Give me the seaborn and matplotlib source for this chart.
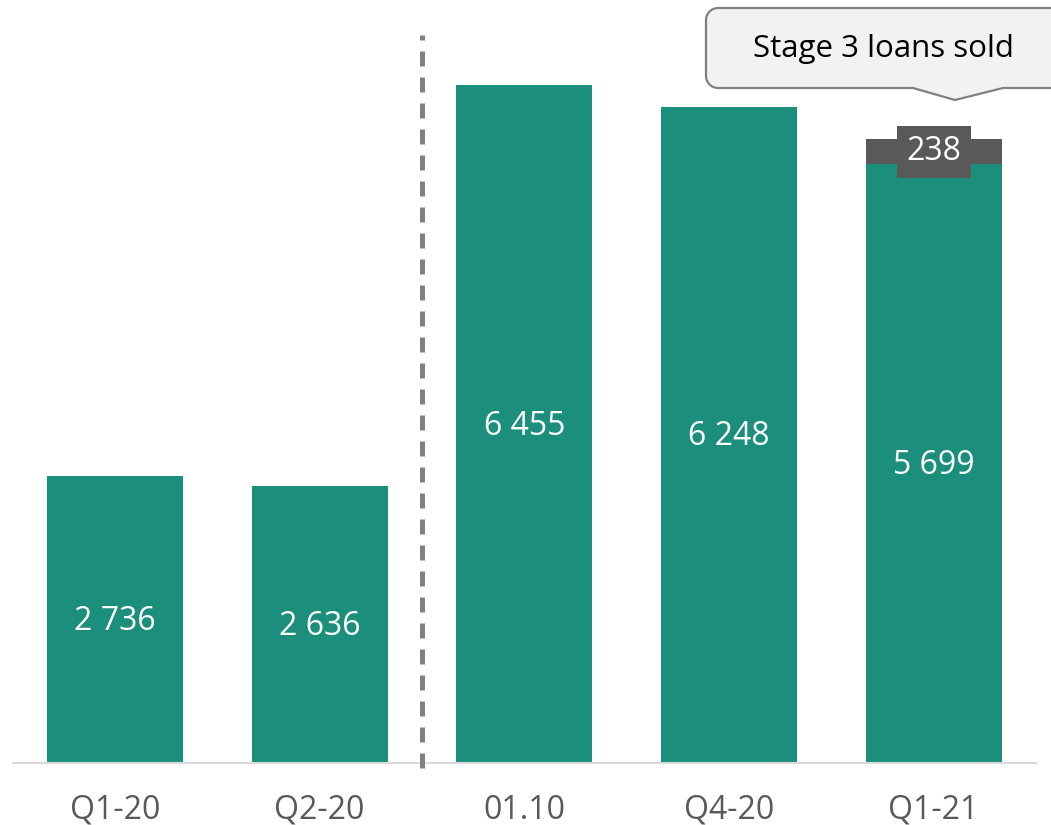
import seaborn as sns
import matplotlib.pyplot as plt
import pandas as pd
import numpy as np
from matplotlib.path import Path
from matplotlib.patches import PathPatch
from matplotlib.transforms import Affine2D

periods = ["Q1-20", "Q2-20", "01.10", "Q4-20", "Q1-21"]
stage3 = [2736, 2636, 6455, 6248, 5699]
sold = [0, 0, 0, 0, 238]
callout_text = "Stage 3 loans sold"

green = "#1b8f7b"
dark = "#595959"

df = pd.DataFrame({"period": periods, "stage3": stage3, "sold": sold})
df["total"] = df["stage3"] + df["sold"]

sns.set_style("white")
plt.rcParams["font.family"] = ["Open Sans", "DejaVu Sans"]

fig = plt.figure(figsize=(10.51, 8.25), dpi=100)
ax = fig.add_axes([12.6 / 1051, 62 / 825, (1036 - 12.6) / 1051, 763 / 825])

# stacked: total in grey behind, stage 3 in green on top
sns.barplot(data=df, x="period", y="total", color=dark, saturation=1,
            width=0.664, order=periods, ax=ax, linewidth=0)
sns.barplot(data=df, x="period", y="stage3", color=green, saturation=1,
            width=0.664, order=periods, ax=ax, linewidth=0)

ax.set_xlim(-0.5, 4.5)
ax.set_ylim(0, 763 * 9.52)

for i, row in df.iterrows():
    ax.text(i, row["stage3"] / 2 - 20, f"{row['stage3']:,}".replace(",", " "),
            ha="center", va="center", color="white", fontsize=23)
    if row["sold"] > 0:
        ax.text(i, row["stage3"] + row["sold"] / 2, f"{row['sold']}",
                ha="center", va="center", color="white", fontsize=23,
                bbox=dict(boxstyle="square,pad=0.3", fc=dark, ec="none"))

# dashed separator
ax.plot([1.5, 1.5], [-50, 6930], color="#808080", lw=3.6,
        ls=(0, (3, 2.2)), solid_capstyle="butt", clip_on=False, zorder=5)

for s in ["top", "right", "left"]:
    ax.spines[s].set_visible(False)
ax.spines["bottom"].set_color("#d9d9d9")
ax.spines["bottom"].set_linewidth(1.5)
ax.set_yticks([])
ax.set_xlabel("")
ax.set_ylabel("")
ax.tick_params(axis="x", length=0, pad=22, labelsize=23, labelcolor=dark)

# callout box (pixel coords, y down)
px = Affine2D().scale(1, -1).translate(0, 825).scale(1 / 1051, 1 / 825) + fig.transFigure
L, R, T, B, r = 706, 1070, 8, 88, 12
def arc(cx, cy, a0, a1):
    t = np.radians(np.linspace(a0, a1, 10))
    return list(zip(cx + r * np.cos(t), cy + r * np.sin(t)))
pts = []
pts += arc(L + r, T + r, 180, 270)
pts += arc(R - r, T + r, 270, 360)
pts += arc(R - r, B - r, 0, 90)
pts += [(1003, B), (955, 100), (913, B)]
pts += arc(L + r, B - r, 90, 180)
pts.append(pts[0])
codes = [Path.MOVETO] + [Path.LINETO] * (len(pts) - 2) + [Path.CLOSEPOLY]
fig.patches.append(PathPatch(Path(pts, codes), fc="#f2f2f2", ec="#808080",
                             lw=1.6, transform=px))
fig.text(883 / 1051, 1 - 49 / 825, callout_text, ha="center", va="center",
         fontsize=22.5, color="black")

fig.savefig("out.png", dpi=100)
